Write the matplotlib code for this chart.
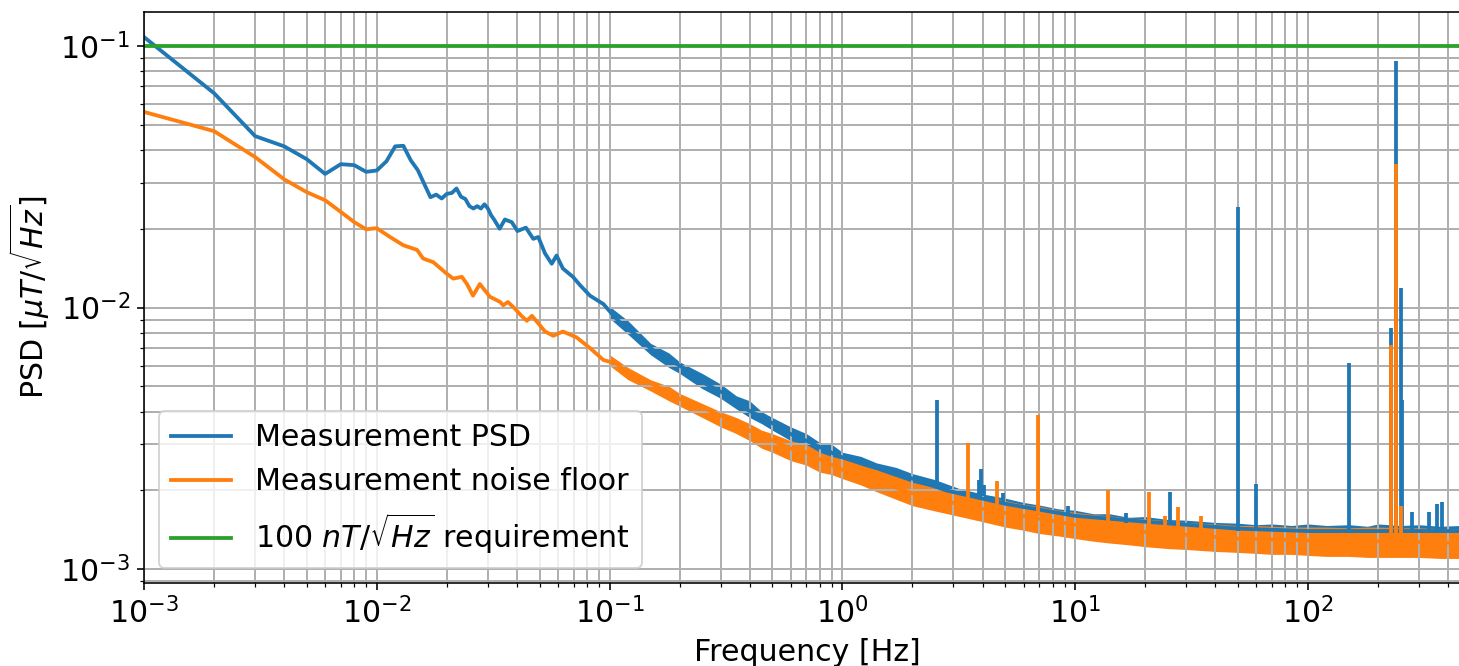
import numpy as np
import matplotlib
matplotlib.use('Agg')
import matplotlib.pyplot as plt

blue_f = [0.001, 0.002, 0.003, 0.004, 0.005, 0.006, 0.007, 0.008, 0.009, 0.010,
          0.011, 0.012, 0.013, 0.014, 0.015, 0.017, 0.018, 0.019, 0.020, 0.021,
          0.022, 0.023, 0.024, 0.025, 0.026, 0.027, 0.028, 0.029, 0.030, 0.031,
          0.032, 0.0337, 0.0355, 0.038, 0.0402, 0.0437, 0.047, 0.0494, 0.0528, 0.0564,
          0.0592, 0.063, 0.0696, 0.0745, 0.0824, 0.0942, 0.104, 0.114, 0.134, 0.144,
          0.16, 0.188, 0.22, 0.26, 0.31, 0.363, 0.43, 0.505, 0.594, 0.70,
          0.82, 0.97, 1.44, 2.0, 2.8, 5.0, 10, 20, 50, 100, 200, 450]
blue_psd = [0.108, 0.0659, 0.0452, 0.0413, 0.0369, 0.0324, 0.0353, 0.0350, 0.0330, 0.0334,
            0.0362, 0.0413, 0.0415, 0.0365, 0.0335, 0.0264, 0.0270, 0.0261, 0.0272, 0.0274,
            0.0285, 0.0265, 0.0260, 0.0244, 0.0239, 0.0244, 0.0239, 0.0248, 0.0239, 0.0225,
            0.0216, 0.0200, 0.0217, 0.0212, 0.0196, 0.0202, 0.0183, 0.0186, 0.0161, 0.0147,
            0.0158, 0.0141, 0.0131, 0.0122, 0.0111, 0.0103, 0.0093, 0.00855, 0.0077, 0.0072,
            0.0067, 0.0062, 0.0057, 0.0051, 0.0047, 0.0042, 0.0039, 0.0036, 0.0033, 0.0031,
            0.0029, 0.0027, 0.00245, 0.00222, 0.0020, 0.00178, 0.0016, 0.00152, 0.00143, 0.0014,
            0.0014, 0.0014]

# Measurement noise floor (orange)
orange_f = [0.001, 0.002, 0.003, 0.004, 0.005, 0.006, 0.007, 0.008, 0.009, 0.010,
            0.0114, 0.013, 0.0149, 0.0158, 0.0175, 0.0199, 0.0213, 0.0232, 0.0244, 0.0259,
            0.0277, 0.0306, 0.0339, 0.0349, 0.0366, 0.0392, 0.0418, 0.0441, 0.0464, 0.0494,
            0.0528, 0.0573, 0.063, 0.072, 0.0824, 0.0942, 0.1075, 0.1226, 0.14, 0.16,
            0.188, 0.22, 0.26, 0.31, 0.363, 0.43, 0.505, 0.594, 0.70, 0.82,
            1.0, 2.0, 3.2, 5.0, 10, 20, 50, 100, 200, 450]
orange_psd = [0.0559, 0.0472, 0.0376, 0.0309, 0.0276, 0.0257, 0.0232, 0.0212, 0.0199, 0.0201,
              0.0186, 0.0173, 0.0166, 0.0154, 0.0149, 0.0135, 0.0129, 0.0131, 0.0123, 0.0111,
              0.0123, 0.0110, 0.0105, 0.0102, 0.0105, 0.0099, 0.0093, 0.0089, 0.0093, 0.0087,
              0.0081, 0.0078, 0.0081, 0.0077, 0.0070, 0.0063, 0.0061, 0.0055, 0.0053, 0.0050,
              0.0046, 0.0043, 0.0041, 0.0038, 0.0035, 0.0033, 0.0031, 0.0029, 0.0028, 0.0026,
              0.0024, 0.00195, 0.00177, 0.00164, 0.00148, 0.00139, 0.00131, 0.00129, 0.00128, 0.00126]

# noise band envelopes (upper / lower edge of the noisy trace)
band_f = [0.1, 0.12, 0.15, 0.18, 0.2, 0.25, 0.3, 0.35, 0.4, 0.45,
          0.5, 0.6, 0.7, 0.8, 0.9, 1.0, 1.2, 1.4, 1.7, 2.0,
          2.5, 3.2, 4, 5, 6, 7, 8.5, 10, 12, 14,
          17, 20, 25, 30, 40, 50, 60, 70, 85, 100,
          120, 150, 180, 200, 250, 300, 370, 450]
blue_hi = [0.0101, 0.0089, 0.0073, 0.0067, 0.0062, 0.0056, 0.0051, 0.0046, 0.0044, 0.0040,
           0.0038, 0.0035, 0.0033, 0.00305, 0.0030, 0.0028, 0.0027, 0.00255, 0.00245, 0.00232,
           0.0022, 0.00203, 0.00194, 0.00187, 0.0018, 0.00176, 0.0017, 0.00168, 0.00163, 0.00163,
           0.00158, 0.00159, 0.00155, 0.00154, 0.00151, 0.0015, 0.00148, 0.00149, 0.00147, 0.00149,
           0.00147, 0.00148, 0.00146, 0.00149, 0.00147, 0.00148, 0.00146, 0.00147]
blue_lo = [0.0091, 0.0079, 0.0066, 0.0059, 0.0056, 0.0049, 0.0045, 0.0041, 0.0038, 0.0036,
           0.0034, 0.0031, 0.0029, 0.0027, 0.0026, 0.0025, 0.0024, 0.0023, 0.0022, 0.0021,
           0.0020, 0.0019, 0.0018, 0.0017, 0.0016, 0.0016, 0.0015, 0.0015, 0.0015, 0.0014,
           0.0014, 0.0014, 0.0014, 0.0014, 0.0014, 0.0013, 0.0013, 0.0013, 0.0013, 0.0013,
           0.0013, 0.0013, 0.0013, 0.0013, 0.0013, 0.0013, 0.0013, 0.0013]
orange_hi = [0.0066, 0.0059, 0.0053, 0.0050, 0.0047, 0.0043, 0.0040, 0.0038, 0.0036, 0.0034,
             0.0033, 0.0031, 0.0030, 0.0028, 0.0027, 0.00264, 0.0025, 0.0024, 0.00226, 0.00215,
             0.00205, 0.00195, 0.00188, 0.00183, 0.00177, 0.00174, 0.00168, 0.00165, 0.00162, 0.0016,
             0.00157, 0.00156, 0.00153, 0.00151, 0.00149, 0.00147, 0.00147, 0.00146, 0.00145, 0.00145,
             0.00145, 0.00144, 0.00145, 0.00145, 0.00144, 0.00144, 0.00143, 0.00143]
orange_lo = [0.0060, 0.0053, 0.0048, 0.0044, 0.0042, 0.0038, 0.0035, 0.0033, 0.0031, 0.0029,
             0.0028, 0.0026, 0.0025, 0.00235, 0.0023, 0.00222, 0.0021, 0.00198, 0.00185, 0.00175,
             0.00167, 0.00159, 0.00152, 0.00145, 0.00141, 0.00137, 0.00134, 0.00131, 0.00128, 0.00126,
             0.00124, 0.00122, 0.0012, 0.00119, 0.00117, 0.00116, 0.00115, 0.00114, 0.00114, 0.00113,
             0.00112, 0.00112, 0.00111, 0.00111, 0.00111, 0.00111, 0.0011, 0.0011]

# spectral lines
blue_spike_f = [2.56, 3.85, 3.95, 4.05, 4.9, 9.3, 16.6, 25.5, 50, 60,
                150, 226.5, 238, 250, 254, 281, 332, 357, 378]
blue_spike_peak = [0.00442, 0.0022, 0.00242, 0.0021, 0.00195, 0.00175, 0.00164, 0.00197, 0.0242, 0.00211,
                   0.00614, 0.00837, 0.0876, 0.0119, 0.00442, 0.00166, 0.00166, 0.00178, 0.0018]
blue_spike_base = [0.0021, 0.0019, 0.0019, 0.0019, 0.0018, 0.0016, 0.0015, 0.0015, 0.0014, 0.0014,
                   0.0014, 0.0014, 0.0014, 0.0014, 0.0014, 0.0014, 0.0014, 0.0014, 0.0014]
orange_spike_f = [3.48, 4.63, 6.9, 13.9, 20.7, 24.3, 27.7, 34.6, 226.5, 238, 250]
orange_spike_peak = [0.00305, 0.00218, 0.00387, 0.0020, 0.00197, 0.0016, 0.00173, 0.0016, 0.00717, 0.0353, 0.00175]
orange_spike_base = [0.0018, 0.0017, 0.0016, 0.0014, 0.0014, 0.0014, 0.0014, 0.0013, 0.0013, 0.0013, 0.0013]

requirement = 0.1  # 100 nT/sqrt(Hz) in uT

W, H, DPI = 1459, 666, 144
LW = 1.9
FS = 15

fig = plt.figure(figsize=(W / DPI, H / DPI), dpi=DPI)
# axes run a bit past the right edge, as in the cropped original
ax = fig.add_axes([144 / W, (H - 583.3) / H, 1326.7 / W, 571.6 / H])

ax.plot(blue_f, blue_psd, color='C0', lw=LW, label='Measurement PSD')
ax.fill_between(band_f, blue_lo, blue_hi, color='C0', lw=0)
ax.vlines(blue_spike_f, blue_spike_base, blue_spike_peak, color='C0', lw=LW)

ax.plot(orange_f, orange_psd, color='C1', lw=LW, label='Measurement noise floor')
ax.fill_between(band_f, orange_lo, orange_hi, color='C1', lw=0)
ax.vlines(orange_spike_f, orange_spike_base, orange_spike_peak, color='C1', lw=LW)

ax.axhline(requirement, color='C2', lw=LW, label=r'100 $nT/\sqrt{Hz}$ requirement')

ax.set_xscale('log')
ax.set_yscale('log')
ax.set_xlim(1e-3, 500)
ax.set_ylim(8.84e-4, 0.135)
ax.grid(True, which='both', lw=1.0)
ax.tick_params(labelsize=FS)
ax.set_xlabel('Frequency [Hz]', fontsize=FS)
ax.set_ylabel(r'PSD [$\mu T/\sqrt{Hz}$]', fontsize=FS)
ax.legend(loc='lower left', fontsize=FS)

fig.savefig('out.png', dpi=DPI)
